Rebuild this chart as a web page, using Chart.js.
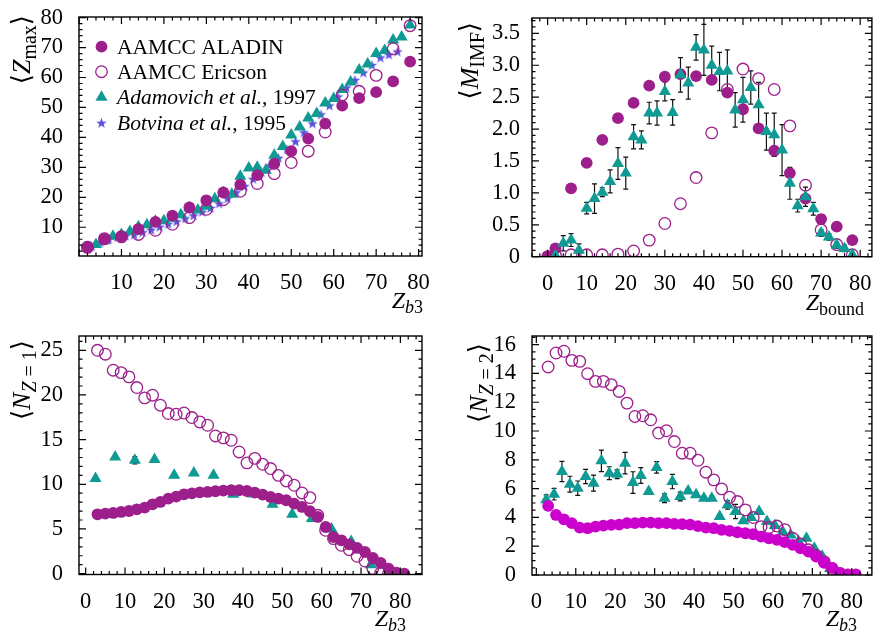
<!DOCTYPE html>
<html><head><meta charset="utf-8">
<script src="https://cdn.jsdelivr.net/npm/chart.js@4/dist/chart.umd.min.js"></script>
<style>
html,body{margin:0;padding:0;background:#fff;}
#wrap{position:relative;width:879px;height:632px;overflow:hidden;background:#fff;}
canvas{position:absolute;left:0;top:0;}
</style></head><body>
<div id="wrap">
<canvas id="c1" width="879" height="632"></canvas>
<canvas id="c2" width="879" height="632"></canvas>
<canvas id="c3" width="879" height="632"></canvas>
<canvas id="c4" width="879" height="632"></canvas>
</div>
<script>
// ---------- Panel (a): <Zmax> vs Zb3 ----------
const zmaxX = [2,6,10,14,18,22,26,30,34,38,42,46,50,54,58,62,66,70,74,78];
const zmaxAladin = [3.4,6.0,7.0,9.4,11.8,13.9,16.6,19.0,21.6,24.2,27.4,31.2,35.4,39.6,44.6,50.6,53.1,55.1,58.7,65.3];
const zmaxEricson = [3.3,6.2,6.8,7.6,9.0,11.0,13.2,16.0,19.2,22.0,24.6,27.9,31.6,35.4,41.8,54.2,55.4,60.7,69.6,77.3];
const zmaxAdamX = [4,6,8,10,12,14,16,18,20,22,24,26,28,30,32,34,36,38,40,42,44,46,48,50,52,54,56,58,60,62,64,66,68,70,72,74,76,78];
const zmaxAdam = [4.2,5.5,7.0,7.6,8.6,10.2,10.8,12.0,12.2,13.0,14.2,16.5,15.8,17.0,19.5,21.5,21.0,27.0,29.8,30.0,29.0,34.0,37.0,40.8,43.5,46.5,48.0,51.5,53.0,56.0,58.5,62.5,64.5,68.0,69.0,72.5,73.5,77.5];
const zmaxBotvX = [3,5,7,9,11,13,15,17,19,21,23,25,27,29,31,33,35,37,39,41,43,45,47,49,51,53,55,57,59,61,63,65,67,69,71,73,75];
const zmaxBotv = [3.5,4.8,5.8,6.5,7.0,7.4,8.2,9.0,10.0,11.0,11.8,12.8,13.8,15.0,16.3,17.8,19.5,21.5,23.6,26.0,28.2,30.5,33.0,35.8,38.5,41.5,44.5,47.5,50.5,53.5,56.5,59.0,61.5,64.0,66.5,67.5,68.5];

// ---------- Panel (b): <M_IMF> vs Zbound ----------
const mimfX = [0,2,6,10,14,18,22,26,30,34,38,42,46,50,54,58,62,66,70,74,78];
const mimfAladin = [0.0,0.13,1.07,1.47,1.83,2.17,2.41,2.68,2.82,2.86,2.83,2.77,2.57,2.31,2.01,1.66,1.31,0.91,0.59,0.47,0.26];
const mimfEricson = [0.0,0.02,0.03,0.03,0.03,0.04,0.09,0.26,0.52,0.83,1.24,1.94,2.62,2.94,2.79,2.62,2.05,1.12,0.42,0.19,0.03];
const mimfAdamX = [2,4,6,8,10,12,14,16,18,20,22,24,26,28,30,32,34,36,38,40,42,44,46,48,50,52,54,56,58,60,62,64,66,68,70,72,74,76,78];
const mimfAdam = [0.02,0.21,0.26,0.10,0.76,0.91,1.01,1.18,1.46,1.31,1.88,1.83,2.25,2.25,2.59,2.26,2.85,2.72,3.28,3.24,3.00,2.90,2.91,2.30,2.46,2.65,2.38,1.96,1.91,1.67,1.15,0.80,0.94,0.75,0.37,0.31,0.18,0.13,0.03];
const mimfAdamErr = [0.10,0.12,0.10,0.10,0.09,0.23,0.07,0.18,0.25,0.25,0.19,0.14,0.17,0.19,0.15,0.20,0.27,0.25,0.20,0.40,0.30,0.30,0.33,0.27,0.35,0.26,0.35,0.29,0.34,0.40,0.25,0.10,0.15,0.10,0.05,0.05,0.05,0.05,0.03];

// ---------- Panel (c): <N_Z=1> vs Zb3 ----------
const nz1X = [3,5,7,9,11,13,15,17,19,21,23,25,27,29,31,33,35,37,39,41,43,45,47,49,51,53,55,57,59,61,63,65,67,69,71,73,75,77,79,81];
const nz1Aladin = [6.64,6.72,6.79,6.90,7.01,7.20,7.39,7.76,8.02,8.40,8.62,8.88,8.99,9.10,9.14,9.22,9.29,9.33,9.33,9.25,9.07,8.84,8.58,8.40,8.21,7.84,7.46,6.98,6.34,5.22,4.10,3.73,3.28,2.87,2.42,1.75,1.19,0.56,0.11,0.0];
const nz1EricX = [3,5,7,9,11,13,15,17,19,21,23,25,27,29,31,33,35,37,39,41,43,45,47,49,51,53,55,57,59,61,63,65,67,69,71,73,75,77];
const nz1Ericson = [25.0,24.56,22.77,22.5,22.02,20.83,19.67,19.97,18.85,17.92,17.84,17.98,17.47,16.98,16.61,15.41,15.19,14.93,13.62,12.4,12.9,12.24,11.76,11.0,10.37,9.89,9.03,8.51,6.53,4.85,3.92,3.17,2.69,1.94,1.41,0.56,0.05,0.0];
const nz1AdamX = [2.5,7.5,12.5,17.5,22.5,27.5,32.5,37.5,42.5,47.5,52.5,57.5,62.5,67.5,72.5,77.5];
const nz1Adam = [10.64,13.06,12.69,12.77,11.0,11.27,11.0,8.88,8.9,7.76,6.64,6.16,5.0,3.6,1.0,0.0];
const nz1AdamErr = [0,0,0.4,0,0,0,0,0,0,0,0,0,0,0,0,0];

// ---------- Panel (d): <N_Z=2> vs Zb3 ----------
const nz2X = [3,5,7,9,11,13,15,17,19,21,23,25,27,29,31,33,35,37,39,41,43,45,47,49,51,53,55,57,59,61,63,65,67,69,71,73,75,77,79,81];
const nz2Aladin = [4.8,4.17,3.87,3.6,3.29,3.25,3.36,3.43,3.48,3.5,3.6,3.6,3.64,3.64,3.6,3.6,3.55,3.53,3.5,3.4,3.29,3.25,3.13,3.06,2.97,2.9,2.83,2.67,2.55,2.44,2.28,2.09,1.86,1.62,1.28,0.85,0.5,0.12,0.05,0.05];
const nz2EricX = [3,5,7,9,11,13,15,17,19,21,23,25,27,29,31,33,35,37,39,41,43,45,47,49,51,53,55,57,59,61,63,65,67,69,71,73,75,77];
const nz2Ericson = [14.45,15.42,15.54,14.91,14.84,13.98,13.45,13.45,13.22,12.75,11.94,11.01,11.06,10.78,9.86,10.02,9.27,8.46,8.46,7.97,7.14,6.61,5.98,5.4,5.1,4.52,3.99,3.36,3.3,3.4,3.15,2.55,2.15,1.75,1.35,0.93,0.45,0.1];
const nz2AdamX = [2.5,4.5,6.5,8.5,10.5,12.5,14.5,16.5,18.5,20.5,22.5,24.5,26.5,28.5,30.5,32.5,34.5,36.5,38.5,40.5,42.5,44.5,46.5,48.5,50.5,52.5,54.5,56.5,58.5,60.5,62.5,64.5,66.5,68.5,70.5,72.5,74.5,76.5];
const nz2Adam = [5.22,5.61,7.19,6.31,6.03,6.84,6.38,7.93,7.07,7.0,7.77,6.42,6.91,5.8,7.47,5.33,6.49,5.45,5.84,5.57,5.33,5.33,4.06,4.87,4.41,3.76,3.99,4.41,3.71,3.43,3.01,2.78,2.32,2.55,1.86,1.3,0.46,0.1];
const nz2AdamErr = [0.35,0.4,0.7,0.55,0.5,0.5,0.55,0.75,0.45,0.3,0.75,0.75,0.55,0.15,0.4,0.3,0.5,0.3,0.15,0.15,0.15,0.15,0.15,0.3,0.5,0.1,0.1,0.1,0.1,0.1,0.1,0.1,0.1,0.1,0.1,0.1,0.1,0.1];

// ---------- tick label lists ----------
const ticksA_x = [10,20,30,40,50,60,70,80];
const ticksA_y = [10,20,30,40,50,60,70,80];
const ticks0to80 = [0,10,20,30,40,50,60,70,80];
const ticksB_y = [0,0.5,1.0,1.5,2.0,2.5,3.0,3.5];
const ticksC_y = [0,5,10,15,20,25];
const ticksD_y = [0,2,4,6,8,10,12,14,16];

// ---------- legend labels ----------
const legendLabels = [
  [{t:'AAMCC ALADIN'}],
  [{t:'AAMCC Ericson'}],
  [{t:'Adamovich et al.',it:1},{t:', 1997'}],
  [{t:'Botvina et al.',it:1},{t:', 1995'}]
];

// ---------- styling ----------
const W = 879, H = 632;
const FONT = "'Liberation Serif', 'DejaVu Serif', serif";
const PURPLE = '#9d1f8b', TEAL = '#0f9a94', STARC = '#5b52e0', MAGENTA = '#cc00cc';

function starImg(color, R){
  const s = Math.ceil(R*2+2);
  const c = document.createElement('canvas'); c.width = s; c.height = s;
  const g = c.getContext('2d'); g.fillStyle = color; g.beginPath();
  for (let i=0;i<10;i++){ const r = i%2 ? R*0.42 : R; const a = -Math.PI/2 + i*Math.PI/5;
    g.lineTo(s/2 + r*Math.cos(a), s/2 + r*Math.sin(a)); }
  g.closePath(); g.fill(); return c;
}
const STAR = starImg(STARC, 5.5);

const pts = (xs, ys) => xs.map((x,i) => ({x:x, y:ys[i]}));
const dsFilled = (d, col) => ({data:d, pointStyle:'circle', pointRadius:5.9, pointHoverRadius:5.9, backgroundColor:col, borderColor:col, borderWidth:0, showLine:false, clip:0});
const dsOpen = (d) => ({data:d, pointStyle:'circle', pointRadius:5.8, pointHoverRadius:5.8, backgroundColor:'rgba(0,0,0,0)', borderColor:PURPLE, borderWidth:1.3, showLine:false, clip:0});
const dsTri = (d) => ({data:d, pointStyle:'triangle', pointRadius:7, pointHoverRadius:7, backgroundColor:TEAL, borderColor:TEAL, borderWidth:0, showLine:false, clip:0});
const dsStar = (d) => ({data:d, pointStyle:STAR, pointRadius:5, backgroundColor:STARC, borderColor:STARC, borderWidth:0, showLine:false, clip:0});

const SUBF = 0.76;
function fontFor(s, size){ return (s.it ? 'italic ' : '') + (s.sub ? Math.round(size*SUBF) : size) + 'px ' + FONT; }
function drawSegs(ctx, segs, x, y, size, align){
  let w = 0;
  segs.forEach(s => { ctx.font = fontFor(s,size); w += ctx.measureText(s.t).width; });
  let cx = align === 'right' ? x - w : x;
  ctx.textAlign = 'left'; ctx.textBaseline = 'alphabetic';
  segs.forEach(s => { ctx.font = fontFor(s,size); ctx.fillText(s.t, cx, y + (s.sub ? size*0.22 : 0)); cx += ctx.measureText(s.t).width; });
}

function line(ctx,x1,y1,x2,y2){ ctx.moveTo(x1,y1); ctx.lineTo(x2,y2); }
function drawTicks(ctx, a, sc, horiz, maj, min){
  ctx.beginPath();
  for (let k = Math.ceil(sc.min/min - 1e-9); k*min <= sc.max + 1e-9; k++){
    const v = k*min, r = v/maj, isMaj = Math.abs(r - Math.round(r)) < 1e-6;
    const L = isMaj ? 7 : 3.5, p = sc.getPixelForValue(v);
    if (horiz){ line(ctx,p,a.bottom,p,a.bottom-L); line(ctx,p,a.top,p,a.top+L); }
    else { line(ctx,a.left,p,a.left+L,p); line(ctx,a.right,p,a.right-L,p); }
  }
  ctx.stroke();
}

const legendMarks = [
  {style:{pointStyle:'circle', radius:5.9, rotation:0, borderWidth:0}, fill:PURPLE, stroke:PURPLE},
  {style:{pointStyle:'circle', radius:5.8, rotation:0, borderWidth:1.3}, fill:'rgba(0,0,0,0)', stroke:PURPLE},
  {style:{pointStyle:'triangle', radius:7, rotation:0, borderWidth:0}, fill:TEAL, stroke:TEAL},
  {style:{pointStyle:STAR, radius:5, rotation:0, borderWidth:0}, fill:STARC, stroke:STARC}
];

function makePanel(id, sp){
  const deco = {
    id: 'deco',
    beforeDatasetsDraw(chart){
      if (!sp.err) return;
      const ctx = chart.ctx, a = chart.chartArea, xs = chart.scales.x, ys = chart.scales.y;
      ctx.save(); ctx.beginPath(); ctx.rect(a.left,a.top,a.right-a.left,a.bottom-a.top); ctx.clip();
      ctx.strokeStyle = '#111'; ctx.lineWidth = 1.2; ctx.beginPath();
      sp.err.x.forEach((x,i) => { const e = sp.err.e[i]; if (!e) return;
        const px = xs.getPixelForValue(x), y1 = ys.getPixelForValue(sp.err.y[i]-e), y2 = ys.getPixelForValue(sp.err.y[i]+e);
        line(ctx,px,y1,px,y2); line(ctx,px-2.5,y1,px+2.5,y1); line(ctx,px-2.5,y2,px+2.5,y2); });
      ctx.stroke(); ctx.restore();
    },
    afterDraw(chart){
      const ctx = chart.ctx, a = chart.chartArea;
      ctx.save();
      ctx.strokeStyle = '#000'; ctx.lineWidth = 1.2;
      drawTicks(ctx, a, chart.scales.x, true, sp.xMaj, sp.xMin);
      drawTicks(ctx, a, chart.scales.y, false, sp.yMaj, sp.yMin);
      ctx.lineWidth = 1.4;
      ctx.strokeRect(a.left, a.top, a.right-a.left, a.bottom-a.top);
      ctx.fillStyle = '#000';
      drawSegs(ctx, sp.xlabel.segs, sp.xlabel.x, sp.xlabel.y, 24, 'right');
      ctx.save(); ctx.translate(sp.ylabel.x, sp.ylabel.y); ctx.rotate(-Math.PI/2);
      drawSegs(ctx, sp.ylabel.segs, 0, 0, 26, 'right'); ctx.restore();
      if (sp.legend){
        legendMarks.forEach((it, i) => {
          const y = sp.legend.rows[i];
          ctx.save(); ctx.fillStyle = it.fill; ctx.strokeStyle = it.stroke; ctx.lineWidth = it.style.borderWidth;
          Chart.helpers.drawPoint(ctx, it.style, sp.legend.markX, y);
          ctx.restore();
          ctx.fillStyle = '#000';
          drawSegs(ctx, legendLabels[i], sp.legend.textX, y + 7, 21.5, 'left');
        });
      }
      ctx.restore();
    }
  };
  const a = sp.area, yW = 70, xH = 45;
  return new Chart(document.getElementById(id), {
    type: 'scatter',
    data: { datasets: sp.datasets },
    plugins: [deco],
    options: {
      responsive: false, animation: false, devicePixelRatio: 1, events: [],
      layout: { padding: { left: a.l - yW, top: a.t, right: W - a.r, bottom: H - a.b - xH } },
      plugins: { legend: { display: false }, tooltip: { enabled: false } },
      scales: {
        x: { type: 'linear', min: sp.xr[0], max: sp.xr[1],
          grid: { display: false }, border: { display: false },
          afterBuildTicks: s => { s.ticks = sp.xticks.map(v => ({value: v})); },
          afterFit: s => { s.height = xH; s.paddingLeft = 0; s.paddingRight = 0; },
          ticks: { color: '#000', font: { family: FONT, size: 22.5 }, padding: sp.xPad, maxRotation: 0, autoSkip: false, callback: v => String(v) } },
        y: { type: 'linear', min: sp.yr[0], max: sp.yr[1],
          grid: { display: false }, border: { display: false },
          afterBuildTicks: s => { s.ticks = sp.yticks.map(v => ({value: v})); },
          afterFit: s => { s.width = yW; s.paddingTop = 0; s.paddingBottom = 0; },
          ticks: { color: '#000', font: { family: FONT, size: 22.5 }, padding: sp.yPad, autoSkip: false, callback: sp.yfmt || (v => String(v)) } }
      }
    }
  });
}

makePanel('c1', {
  area: {l:79, t:17, r:422, b:256}, xr:[0,80.8], yr:[0.4,80.2],
  xticks: ticksA_x, yticks: ticksA_y, xMaj:10, xMin:2, yMaj:10, yMin:2, xPad:6, yPad:8,
  xlabel: {segs:[{t:'Z',it:1},{t:'b',it:1,sub:1},{t:'3',sub:1}], x:423, y:308},
  ylabel: {segs:[{t:'⟨'},{t:'Z',it:1},{t:'max',sub:1},{t:'⟩'}], x:30, y:15},
  legend: {rows:[46.7, 71.7, 97.3, 123.3], markX:101.5, textX:117},
  datasets: [
    dsFilled(pts(zmaxX, zmaxAladin), PURPLE),
    dsOpen(pts(zmaxX, zmaxEricson)),
    dsTri(pts(zmaxAdamX, zmaxAdam)),
    dsStar(pts(zmaxBotvX, zmaxBotv))
  ]
});

makePanel('c2', {
  area: {l:532, t:18, r:875, b:256.7}, xr:[-4,83], yr:[0,3.74],
  xticks: ticks0to80, yticks: ticksB_y, xMaj:10, xMin:2, yMaj:0.5, yMin:0.1, xPad:6, yPad:4,
  yfmt: v => v === 0 ? '0' : v.toFixed(1),
  xlabel: {segs:[{t:'Z',it:1},{t:'bound',sub:1}], x:864, y:309.5},
  ylabel: {segs:[{t:'⟨'},{t:'M',it:1},{t:'IMF',sub:1},{t:'⟩'}], x:478, y:22},
  err: {x: mimfAdamX, y: mimfAdam, e: mimfAdamErr},
  datasets: [
    dsTri(pts(mimfAdamX, mimfAdam)),
    dsFilled(pts(mimfX, mimfAladin), PURPLE),
    dsOpen(pts(mimfX, mimfEricson))
  ]
});

makePanel('c3', {
  area: {l:79, t:336, r:422, b:574.5}, xr:[-1.7,85.5], yr:[-0.1,26.6],
  xticks: ticks0to80, yticks: ticksC_y, xMaj:10, xMin:2, yMaj:5, yMin:1, xPad:6, yPad:8,
  xlabel: {segs:[{t:'Z',it:1},{t:'b',it:1,sub:1},{t:'3',sub:1}], x:406, y:626},
  ylabel: {segs:[{t:'⟨'},{t:'N',it:1},{t:'Z',it:1,sub:1},{t:' = 1',sub:1},{t:'⟩'}], x:30, y:340},
  err: {x: nz1AdamX, y: nz1Adam, e: nz1AdamErr},
  datasets: [
    dsFilled(pts(nz1X, nz1Aladin), PURPLE),
    dsOpen(pts(nz1EricX, nz1Ericson)),
    dsTri(pts(nz1AdamX, nz1Adam))
  ]
});

makePanel('c4', {
  area: {l:532, t:336, r:875, b:575}, xr:[-1.1,85.1], yr:[0,16.6],
  xticks: ticks0to80, yticks: ticksD_y, xMaj:10, xMin:2, yMaj:2, yMin:0.5, xPad:6, yPad:8,
  xlabel: {segs:[{t:'Z',it:1},{t:'b',it:1,sub:1},{t:'3',sub:1}], x:857, y:626},
  ylabel: {segs:[{t:'⟨'},{t:'N',it:1},{t:'Z',it:1,sub:1},{t:' = 2',sub:1},{t:'⟩'}], x:487, y:343},
  err: {x: nz2AdamX, y: nz2Adam, e: nz2AdamErr},
  datasets: [
    dsFilled(pts(nz2X, nz2Aladin), MAGENTA),
    dsOpen(pts(nz2EricX, nz2Ericson)),
    dsTri(pts(nz2AdamX, nz2Adam))
  ]
});
</script>
</body></html>
